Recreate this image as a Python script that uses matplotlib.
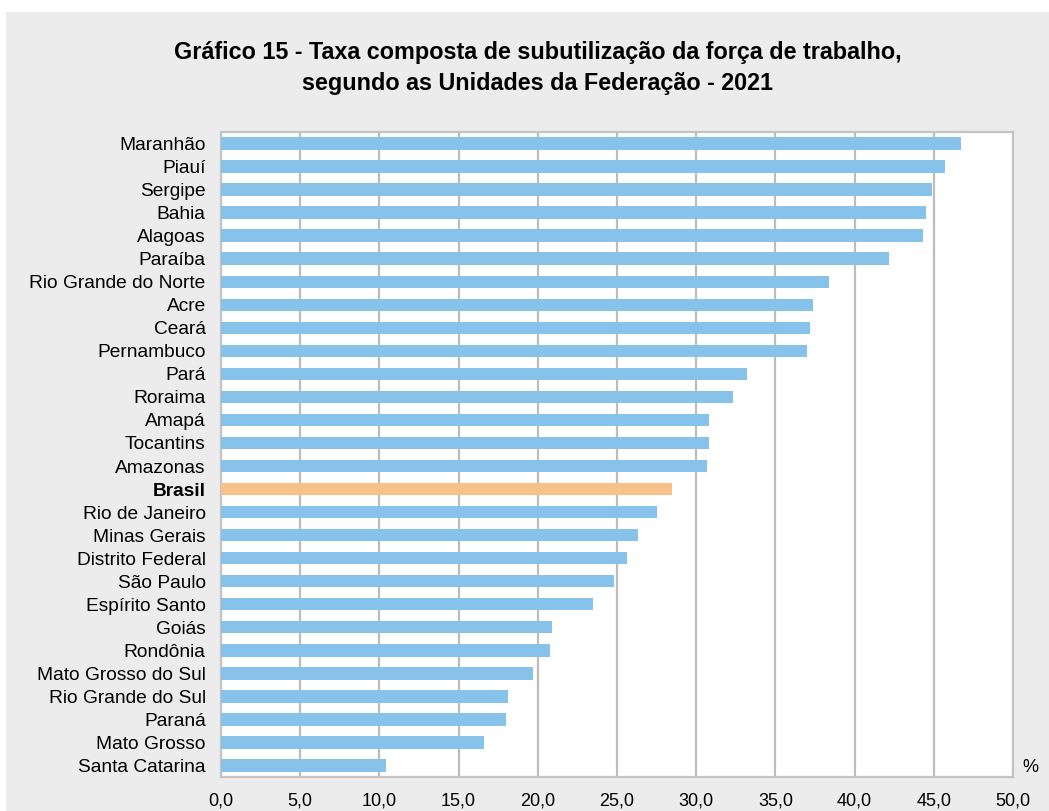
import matplotlib
matplotlib.use("Agg")
import matplotlib.pyplot as plt
from matplotlib.patches import Rectangle

# dados (taxa composta de subutilização, %)
ufs = ["Maranhão", "Piauí", "Sergipe", "Bahia", "Alagoas", "Paraíba",
       "Rio Grande do Norte", "Acre", "Ceará", "Pernambuco", "Pará",
       "Roraima", "Amapá", "Tocantins", "Amazonas", "Brasil",
       "Rio de Janeiro", "Minas Gerais", "Distrito Federal", "São Paulo",
       "Espírito Santo", "Goiás", "Rondônia", "Mato Grosso do Sul",
       "Rio Grande do Sul", "Paraná", "Mato Grosso", "Santa Catarina"]
taxas = [46.7, 45.7, 44.9, 44.5, 44.3, 42.2, 38.4, 37.4, 37.2, 37.0, 33.2,
         32.3, 30.8, 30.8, 30.7, 28.5, 27.5, 26.3, 25.6, 24.8, 23.5, 20.9,
         20.8, 19.7, 18.1, 18.0, 16.6, 10.4]
xticks = [0, 5, 10, 15, 20, 25, 30, 35, 40, 45, 50]

azul = "#86c2e9"
laranja = "#f8c18b"
fundo = "#ececec"
fonte = ["Liberation Sans", "DejaVu Sans"]

fig = plt.figure(figsize=(10.49, 8.11), dpi=100)
fig.patch.set_facecolor("white")
fig.patches.append(Rectangle((6 / 1049, 0), 1 - 6 / 1049, 1 - 12 / 811,
                             transform=fig.transFigure, facecolor=fundo,
                             edgecolor="none", zorder=-10))

ax = fig.add_axes([221 / 1049, 1 - 777 / 811, (1013 - 221) / 1049, (777 - 132) / 811])
ax.set_facecolor("white")

pos = list(range(len(ufs)))
cores = [laranja if u == "Brasil" else azul for u in ufs]
ax.barh(pos, taxas, height=0.54, color=cores, zorder=3)

ax.set_xlim(0, 50)
ax.set_ylim(len(ufs) - 0.5, -0.5)
ax.set_xticks(xticks)
ax.set_xticklabels([f"{v:.1f}".replace(".", ",") for v in xticks],
                   fontsize=13, family=fonte)
ax.set_yticks(pos)
ax.set_yticklabels(ufs, fontsize=13.8, family=fonte)
for lbl in ax.get_yticklabels():
    if lbl.get_text() == "Brasil":
        lbl.set_fontweight("bold")
ax.tick_params(axis="both", length=0)
ax.tick_params(axis="x", pad=11)
ax.tick_params(axis="y", pad=11)

ax.grid(axis="x", color="#bdbdbd", linewidth=1.6, zorder=0)
for s in ax.spines.values():
    s.set_color("#c4c4c4")
    s.set_linewidth(1.6)

ax.text(1.012, 0.015, "%", transform=ax.transAxes, fontsize=13,
        family=fonte, ha="left", va="center")

fig.text(538 / 1049, 1 - 68 / 811,
         "Gráfico 15 - Taxa composta de subutilização da força de trabalho,\n"
         "segundo as Unidades da Federação - 2021",
         ha="center", va="center", fontsize=16.8, fontweight="bold",
         family=fonte, linespacing=1.45)

fig.savefig("out.png", dpi=100, facecolor=fig.get_facecolor())
